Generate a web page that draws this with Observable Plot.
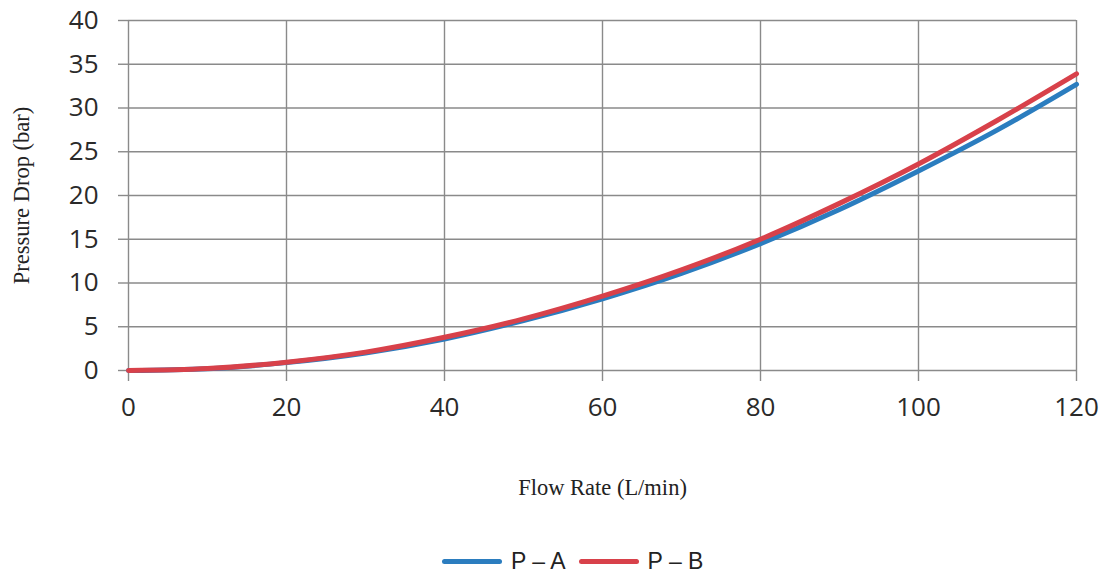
<!DOCTYPE html>
<html>
<head>
<meta charset="utf-8">
<script src="https://cdn.jsdelivr.net/npm/d3@7"></script>
<script src="https://cdn.jsdelivr.net/npm/@observablehq/plot@0.6"></script>
<style>
  html, body { margin: 0; padding: 0; background: #fff; }
  #wrap { position: relative; width: 1105px; height: 574px; overflow: hidden; }
  g[aria-label="x-axis label"] text, g[aria-label="y-axis label"] text {
    font-family: "Liberation Serif", "DejaVu Serif", serif; font-size: 22.5px; fill: #222;
  }
  g[aria-label="x-axis tick label"] text, g[aria-label="y-axis tick label"] text {
    font-family: "Open Sans", sans-serif; font-size: 26px; fill: #2a2a2a;
  }
  #legend { position: absolute; left: 442px; top: 548px; display: flex; align-items: center;
    font-family: "Liberation Sans", Arial, sans-serif; font-size: 23px; color: #222; }
  #legend .sw { display: inline-block; width: 60px; height: 5px; border-radius: 3px; }
  #legend .lab { margin-left: 9px; margin-right: 13px; }
</style>
</head>
<body>
<div id="wrap"></div>
<script>
const flow = [0, 10, 20, 30, 40, 50, 60, 70, 80, 90, 100, 110, 120];
const pA = [0, 0.2, 0.9, 2.0, 3.6, 5.7, 8.2, 11.1, 14.5, 18.4, 22.8, 27.5, 32.7];
const pB = [0, 0.22, 0.95, 2.1, 3.8, 5.9, 8.5, 11.5, 15.0, 19.1, 23.6, 28.6, 33.9];
const seriesNames = ["P – A", "P – B"];
const seriesColors = ["#2b7dbf", "#d8414a"];
const xTicks = [0, 20, 40, 60, 80, 100, 120];
const yTicks = [0, 5, 10, 15, 20, 25, 30, 35, 40];

const rows = [];
flow.forEach((f, i) => {
  rows.push({flow: f, p: pA[i], s: seriesNames[0]});
  rows.push({flow: f, p: pB[i], s: seriesNames[1]});
});

const chart = Plot.plot({
  width: 1105,
  height: 574,
  marginLeft: 128,
  marginRight: 29,
  marginTop: 20,
  marginBottom: 204,
  x: {domain: [0, 120]},
  y: {domain: [0, 40]},
  color: {domain: seriesNames, range: seriesColors},
  marks: [
    Plot.gridX(xTicks, {stroke: "#8a8a8a", strokeOpacity: 1, strokeWidth: 1.4}),
    Plot.gridY(yTicks, {stroke: "#8a8a8a", strokeOpacity: 1, strokeWidth: 1.4}),
    Plot.axisX({ticks: xTicks, tickSize: 11, tickPadding: 16, stroke: "#8a8a8a", strokeWidth: 1.4,
      label: "Flow Rate (L/min)", labelAnchor: "center", labelArrow: "none", labelOffset: 124}),
    Plot.axisY({ticks: yTicks, tickSize: 10, tickPadding: 20, stroke: "#8a8a8a", strokeWidth: 1.4,
      label: "Pressure Drop (bar)", labelAnchor: "center", labelArrow: "none", labelOffset: 115}),
    Plot.line(rows, {x: "flow", y: "p", z: "s", stroke: "s", strokeWidth: 5, curve: "catmull-rom"})
  ]
});
document.getElementById("wrap").appendChild(chart);

const legend = document.createElement("div");
legend.id = "legend";
seriesNames.forEach((n, i) => {
  const sw = document.createElement("span");
  sw.className = "sw";
  sw.style.background = seriesColors[i];
  const lab = document.createElement("span");
  lab.className = "lab";
  lab.textContent = n;
  legend.appendChild(sw);
  legend.appendChild(lab);
});
document.getElementById("wrap").appendChild(legend);
</script>
</body>
</html>
